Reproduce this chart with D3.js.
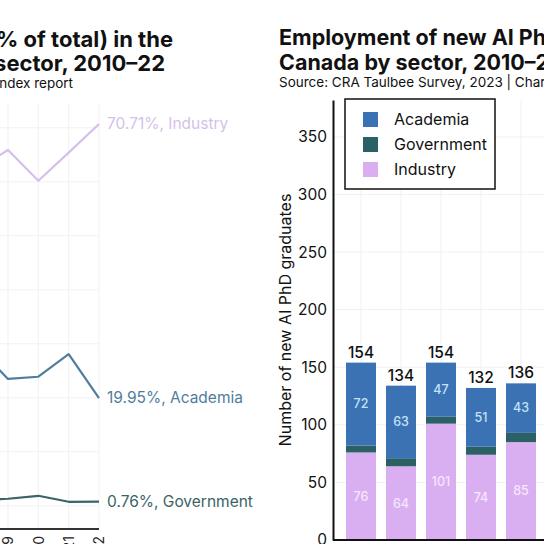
<!DOCTYPE html>
<html>
<head>
<meta charset="utf-8">
<script src="https://cdn.jsdelivr.net/npm/d3@7"></script>
<style>
  body { margin: 0; background: #fff; }
  svg { display: block; font-family: Inter, "Noto Sans", sans-serif; }
</style>
</head>
<body>
<div id="chart"></div>
<script>
const width = 544
const height = 544

// left chart: share of new AI PhDs (%), United States
const share_years = [2018, 2019, 2020, 2021, 2022]
const share_industry = [62.4, 65.9, 60.2, 65.4, 70.71]
const share_academia = [29.3, 23.5, 23.9, 28.1, 19.95]
const share_government = [1.1, 1.3, 1.85, 0.74, 0.76]
const share_ticks = [0, 10, 20, 30, 40, 50, 60, 70]
const all_years = d3.range(2010, 2023)

// right chart: new AI PhDs in Canada (counts)
const count_years = [2010, 2011, 2012, 2013, 2014]
const count_academia = [72, 63, 47, 51, 43]
const count_government = [6, 7, 6, 7, 8]
const count_industry = [76, 64, 101, 74, 85]
const count_ticks = [0, 50, 100, 150, 200, 250, 300, 350]

const sectors = ['Academia', 'Government', 'Industry']
const line_colors = {Industry: '#d6bfe8', Academia: '#4f7d9e', Government: '#3a6466'}
const bar_colors = {Academia: '#3a72b4', Government: '#2b6065', Industry: '#d9aff2'}

const svg = d3.select('#chart')
    .append('svg')
    .attr('width', width)
    .attr('height', height)

/* ---------- left chart ---------- */
const xL = d3.scaleLinear().domain([2010, 2022]).range([-265, 99])
const yL = d3.scaleLinear().domain([-4.3, 74.6]).range([529, 103])

svg.append('g')
    .selectAll('line')
    .data(share_ticks)
    .join('line')
    .attr('x1', 0).attr('x2', xL(2022))
    .attr('y1', d => yL(d)).attr('y2', d => yL(d))
    .attr('stroke', '#f1f1f3')
svg.append('g')
    .selectAll('line')
    .data(all_years)
    .join('line')
    .attr('x1', d => xL(d)).attr('x2', d => xL(d))
    .attr('y1', yL.range()[0]).attr('y2', yL.range()[1])
    .attr('stroke', '#f1f1f3')

const series_left = [
    {name: 'Industry', values: share_industry},
    {name: 'Academia', values: share_academia},
    {name: 'Government', values: share_government}
]
const line = d3.line()
    .x((d, i) => xL(share_years[i]))
    .y(d => yL(d))

svg.append('g')
    .selectAll('path')
    .data(series_left)
    .join('path')
    .attr('d', d => line(d.values))
    .attr('fill', 'none')
    .attr('stroke', d => line_colors[d.name])
    .attr('stroke-width', 2.2)
    .attr('stroke-linejoin', 'round')

svg.append('g')
    .selectAll('text')
    .data(series_left)
    .join('text')
    .attr('x', xL(2022) + 8)
    .attr('y', d => yL(d.values[d.values.length - 1]))
    .attr('dy', '0.35em')
    .attr('font-size', 15.5)
    .attr('fill', d => line_colors[d.name])
    .text(d => `${d3.format('.2f')(d.values[d.values.length - 1])}%, ${d.name}`)

const xAxisL = svg.append('g')
    .attr('transform', `translate(0,${yL.range()[0]})`)
    .call(d3.axisBottom(xL).tickValues(all_years).tickFormat(d3.format('d')).tickSize(0))
xAxisL.select('.domain').attr('stroke', '#333').attr('stroke-width', 2)
    .attr('d', `M${xL(2010)},0H${xL(2022)}`)
xAxisL.selectAll('text')
    .attr('font-size', 14)
    .attr('fill', '#222')
    .attr('font-family', 'Inter, sans-serif')
    .attr('text-anchor', 'end')
    .attr('transform', 'rotate(-90)')
    .attr('x', -7)
    .attr('y', 0)
    .attr('dy', '0.35em')

svg.append('text')
    .attr('x', 173).attr('y', 47)
    .attr('text-anchor', 'end')
    .attr('font-size', 22).attr('font-weight', 'bold').attr('fill', '#111')
    .text('Employment of new AI PhDs (% of total) in the')
svg.append('text')
    .attr('x', 165).attr('y', 71)
    .attr('text-anchor', 'end')
    .attr('font-size', 22).attr('font-weight', 'bold').attr('fill', '#111')
    .text('United States by sector, 2010–22')
svg.append('text')
    .attr('x', 73).attr('y', 88)
    .attr('text-anchor', 'end')
    .attr('font-size', 13.5).attr('fill', '#111')
    .text('Source: CRA Taulbee Survey, 2023 | Chart: 2024 AI Index report')

/* ---------- right chart ---------- */
const left = 333
const xR = d3.scaleBand().domain(all_years).range([341, 341 + 40 * all_years.length])
    .paddingInner(0.25).paddingOuter(0.125)
const yR = d3.scaleLinear().domain([0, 382]).range([540, 100])

svg.append('g')
    .selectAll('line')
    .data(count_ticks)
    .join('line')
    .attr('x1', left).attr('x2', width)
    .attr('y1', d => yR(d)).attr('y2', d => yR(d))
    .attr('stroke', '#f1f1f3')
svg.append('g')
    .selectAll('line')
    .data(all_years)
    .join('line')
    .attr('x1', d => xR(d) + xR.bandwidth() / 2).attr('x2', d => xR(d) + xR.bandwidth() / 2)
    .attr('y1', yR.range()[0]).attr('y2', yR.range()[1])
    .attr('stroke', '#f1f1f3')

const table = count_years.map((y, i) => ({
    year: y,
    Academia: count_academia[i],
    Government: count_government[i],
    Industry: count_industry[i]
}))
const stacked = d3.stack().keys(['Industry', 'Government', 'Academia'])(table)

svg.append('g')
    .selectAll('g')
    .data(stacked)
    .join('g')
    .attr('fill', d => bar_colors[d.key])
    .selectAll('rect')
    .data(d => d)
    .join('rect')
    .attr('x', d => xR(d.data.year))
    .attr('y', d => yR(d[1]))
    .attr('width', xR.bandwidth())
    .attr('height', d => yR(d[0]) - yR(d[1]))

const inside = [
    {key: 'Industry', color: '#f6e6ff'},
    {key: 'Academia', color: '#c4e2f7'}
]
inside.forEach(s => {
    const layer = stacked.find(l => l.key === s.key)
    svg.append('g')
        .selectAll('text')
        .data(layer)
        .join('text')
        .attr('x', d => xR(d.data.year) + xR.bandwidth() / 2)
        .attr('y', d => yR((d[0] + d[1]) / 2))
        .attr('dy', '0.35em')
        .attr('text-anchor', 'middle')
        .attr('font-size', 12.5)
        .attr('font-weight', 500)
        .attr('fill', s.color)
        .text(d => d.data[s.key])
})

svg.append('g')
    .selectAll('text')
    .data(table)
    .join('text')
    .attr('x', d => xR(d.year) + xR.bandwidth() / 2)
    .attr('y', d => yR(d.Academia + d.Government + d.Industry) - 5)
    .attr('text-anchor', 'middle')
    .attr('font-size', 15.5)
    .attr('font-weight', 500)
    .attr('fill', '#111')
    .text(d => d.Academia + d.Government + d.Industry)

const yAxisR = svg.append('g')
    .attr('transform', `translate(${left},0)`)
    .call(d3.axisLeft(yR).tickValues(count_ticks).tickSize(0).tickPadding(6))
yAxisR.select('.domain').attr('stroke', '#111').attr('stroke-width', 2)
yAxisR.selectAll('text').attr('font-size', 15.5).attr('fill', '#111')
    .attr('font-family', 'Inter, sans-serif')
svg.append('line')
    .attr('x1', left).attr('x2', width)
    .attr('y1', yR(0)).attr('y2', yR(0))
    .attr('stroke', '#111').attr('stroke-width', 2)

svg.append('text')
    .attr('transform', `translate(285,${(yR.range()[0] + yR.range()[1]) / 2}) rotate(-90)`)
    .attr('text-anchor', 'middle')
    .attr('dy', '0.35em')
    .attr('font-size', 16)
    .attr('fill', '#111')
    .text('Number of new AI PhD graduates')

/* Legend */
const legend = svg.append('g').attr('transform', 'translate(345,99)')
legend.append('rect')
    .attr('width', 150).attr('height', 90)
    .attr('fill', '#fff').attr('stroke', '#111').attr('stroke-width', 1.5)
legend.selectAll('rect.key')
    .data(sectors)
    .join('rect')
    .attr('class', 'key')
    .attr('x', 18).attr('y', (d, i) => 13 + 25 * i)
    .attr('width', 15).attr('height', 15)
    .attr('fill', d => bar_colors[d])
legend.selectAll('text')
    .data(sectors)
    .join('text')
    .attr('x', 49).attr('y', (d, i) => 20.5 + 25 * i)
    .attr('dy', '0.35em')
    .attr('font-size', 16)
    .attr('fill', '#111')
    .text(d => d)

svg.append('text')
    .attr('x', 279).attr('y', 45)
    .attr('font-size', 21.5).attr('font-weight', 'bold').attr('fill', '#111')
    .text('Employment of new AI PhDs in')
svg.append('text')
    .attr('x', 279).attr('y', 70)
    .attr('font-size', 21.5).attr('font-weight', 'bold').attr('fill', '#111')
    .text('Canada by sector, 2010–22')
svg.append('text')
    .attr('x', 279).attr('y', 87)
    .attr('font-size', 13.5).attr('fill', '#111')
    .text('Source: CRA Taulbee Survey, 2023 | Chart: 2024 AI Index report')
</script>
</body>
</html>
